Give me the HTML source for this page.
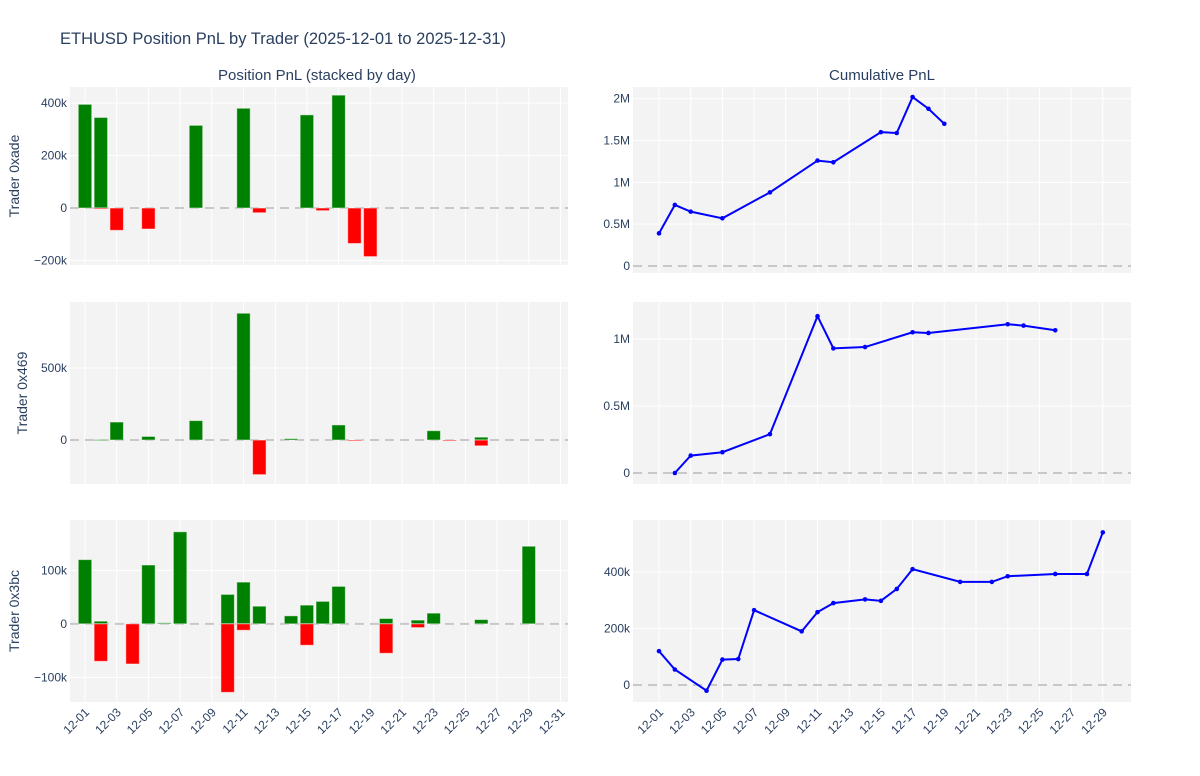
<!DOCTYPE html>
<html><head><meta charset="utf-8"><style>
body{margin:0;background:#fff;font-family:"Liberation Sans",Arial,sans-serif}
svg text{font-family:"Liberation Sans",Arial,sans-serif;fill:#2a3f5f}
</style></head><body>
<svg id="c" width="1200" height="771"></svg>
<script>
const days0xade=[1,2,2,3,5,8,11,12,15,16,17,18,19];
const pnl0xade=[395000,345000,-4000,-85000,-80000,315000,380000,-18000,355000,-10000,430000,-135000,-185000];
const cumDays0xade=[1,2,3,5,8,11,12,15,16,17,18,19];
const cum0xade=[390000,730000,650000,570000,880000,1260000,1240000,1600000,1590000,2020000,1880000,1700000];
const days0x469=[2,3,5,8,11,12,14,17,18,23,24,26,26];
const pnl0x469=[3000,125000,25000,135000,880000,-240000,10000,105000,-3000,65000,-5000,20000,-40000];
const cumDays0x469=[2,3,5,8,11,12,14,17,18,23,24,26];
const cum0x469=[0,130000,155000,290000,1170000,930000,940000,1050000,1045000,1110000,1100000,1065000];
const days0x3bc=[1,2,2,4,5,6,7,10,10,11,11,12,14,15,15,16,17,20,20,22,22,23,26,29];
const pnl0x3bc=[120000,5000,-70000,-75000,110000,2000,172000,55000,-128000,78000,-12000,33000,15000,35000,-40000,42000,70000,10000,-55000,7000,-7000,20000,8000,145000];
const cumDays0x3bc=[1,2,4,5,6,7,10,11,12,14,15,16,17,20,22,23,26,28,29];
const cum0x3bc=[120000,55000,-20000,90000,92000,265000,190000,258000,290000,303000,298000,340000,410000,365000,365000,385000,393000,393000,540000];
const leftTicks=[[400000,'400k'],[200000,'200k'],[0,'0'],[-200000,'−200k']];
const left2Ticks=[[500000,'500k'],[0,'0']];
const left3Ticks=[[100000,'100k'],[0,'0'],[-100000,'−100k']];
const right1Ticks=[[2000000,'2M'],[1500000,'1.5M'],[1000000,'1M'],[500000,'0.5M'],[0,'0']];
const right2Ticks=[[1000000,'1M'],[500000,'0.5M'],[0,'0']];
const right3Ticks=[[400000,'400k'],[200000,'200k'],[0,'0']];
const leftXTicks=[1,3,5,7,9,11,13,15,17,19,21,23,25,27,29,31];
const rightXTicks=[1,3,5,7,9,11,13,15,17,19,21,23,25,27,29];

const S=document.getElementById('c');const NS='http://www.w3.org/2000/svg';
function el(t,a,txt){const e=document.createElementNS(NS,t);for(const k in a)e.setAttribute(k,a[k]);if(txt!==undefined)e.textContent=txt;S.appendChild(e);return e;}
function pad(d){return '12-'+(d<10?'0':'')+d;}
function panel(x0,x1,y0,y1,d0,d1,v0,v1,yt,xt,name){
  const X=d=>x0+(d-d0)/(d1-d0)*(x1-x0);
  const Y=v=>y1-(v-v0)/(v1-v0)*(y1-y0);
  let r=el('rect',{x:x0,y:y0,width:x1-x0,height:y1-y0,fill:'#f3f3f3'});
  
  xt.forEach(d=>{if(X(d)<=x1)el('line',{x1:X(d),x2:X(d),y1:y0,y2:y1,stroke:'#fff','stroke-width':1});});
  yt.forEach(([v,l])=>{if(v!==0)el('line',{x1:x0,x2:x1,y1:Y(v),y2:Y(v),stroke:'#fff','stroke-width':1});
    const t=el('text',{x:x0-3,y:Y(v)+4,'text-anchor':'end','font-size':12},l);
    });
  const z=el('line',{x1:x0,x2:x1,y1:Y(0),y2:Y(0),stroke:'#c8c8c8','stroke-width':2,'stroke-dasharray':'9,6'});
  
  return {X,Y};
}
function bars(p,days,vals,name){
  for(let i=0;i<days.length;i++){const v=vals[i];const x=p.X(days[i]);const w=p.X(days[i]+0.85)-x;
    const y=Math.min(p.Y(0),p.Y(v));const h=Math.abs(p.Y(v)-p.Y(0));
    const b=el('rect',{x:x-w/2,y:y,width:w,height:Math.max(h,1),fill:v>=0?'#008000':'#ff0000',stroke:'rgba(255,255,255,0.5)','stroke-width':1});
    }
}
function line(p,days,vals,name){
  const pts=days.map((d,i)=>p.X(d)+','+p.Y(vals[i])).join(' ');
  const l=el('polyline',{points:pts,fill:'none',stroke:'#0000ff','stroke-width':2});
  
  days.forEach((d,i)=>{const c=el('circle',{cx:p.X(d),cy:p.Y(vals[i]),r:2.3,fill:'#0000ff'});
    });
}
function xlabels(p,ticks,yb,x1){ticks.forEach(d=>{const x=p.X(d);if(x>x1)return;
  const t=el('text',{x:x+5,y:yb+11,'text-anchor':'end','font-size':12,transform:`rotate(-45 ${x+5} ${yb+11})`},pad(d));
  });}

const PX=15.85;
const LX0=70,LX1=568,RX0=633,RX1=1131;
const Ld0=1-(85-LX0)/PX,Ld1=Ld0+(LX1-LX0)/PX,Rd0=1-(659-RX0)/PX,Rd1=Rd0+(RX1-RX0)/PX;
const lp1=panel(LX0,LX1,87,265,Ld0,Ld1,-217000,461000,leftTicks,leftXTicks,'trader-0xade-pnl');
bars(lp1,days0xade,pnl0xade,'0xade');
const lp2=panel(LX0,LX1,302,484,Ld0,Ld1,-305000,958000,left2Ticks,leftXTicks,'trader-0x469-pnl');
bars(lp2,days0x469,pnl0x469,'0x469');
const lp3=panel(LX0,LX1,520,702,Ld0,Ld1,-146000,194000,left3Ticks,leftXTicks,'trader-0x3bc-pnl');
bars(lp3,days0x3bc,pnl0x3bc,'0x3bc');
xlabels(lp3,leftXTicks,702,LX1);
const rp1=panel(RX0,RX1,87,273,Rd0,Rd1,-84000,2140000,right1Ticks,rightXTicks,'trader-0xade-cum');
line(rp1,cumDays0xade,cum0xade,'0xade');
const rp2=panel(RX0,RX1,302,484,Rd0,Rd1,-82000,1276000,right2Ticks,rightXTicks,'trader-0x469-cum');
line(rp2,cumDays0x469,cum0x469,'0x469');
const rp3=panel(RX0,RX1,520,702,Rd0,Rd1,-60000,584000,right3Ticks,rightXTicks,'trader-0x3bc-cum');
line(rp3,cumDays0x3bc,cum0x3bc,'0x3bc');
xlabels(rp3,rightXTicks,702,RX1);

let t=el('text',{x:60,y:44,'font-size':16.5},'ETHUSD Position PnL by Trader (2025-12-01 to 2025-12-31)');

t=el('text',{x:317,y:80,'font-size':15,'text-anchor':'middle'},'Position PnL (stacked by day)');

t=el('text',{x:882,y:80,'font-size':15,'text-anchor':'middle'},'Cumulative PnL');

[['Trader 0xade',176],['Trader 0x469',393],['Trader 0x3bc',611]].forEach(([l,y])=>{
  const x=y===393?27:19;
  const e=el('text',{x:x,y:y,'font-size':14,'text-anchor':'middle',transform:`rotate(-90 ${x} ${y})`},l);
  });
</script>
</body></html>
